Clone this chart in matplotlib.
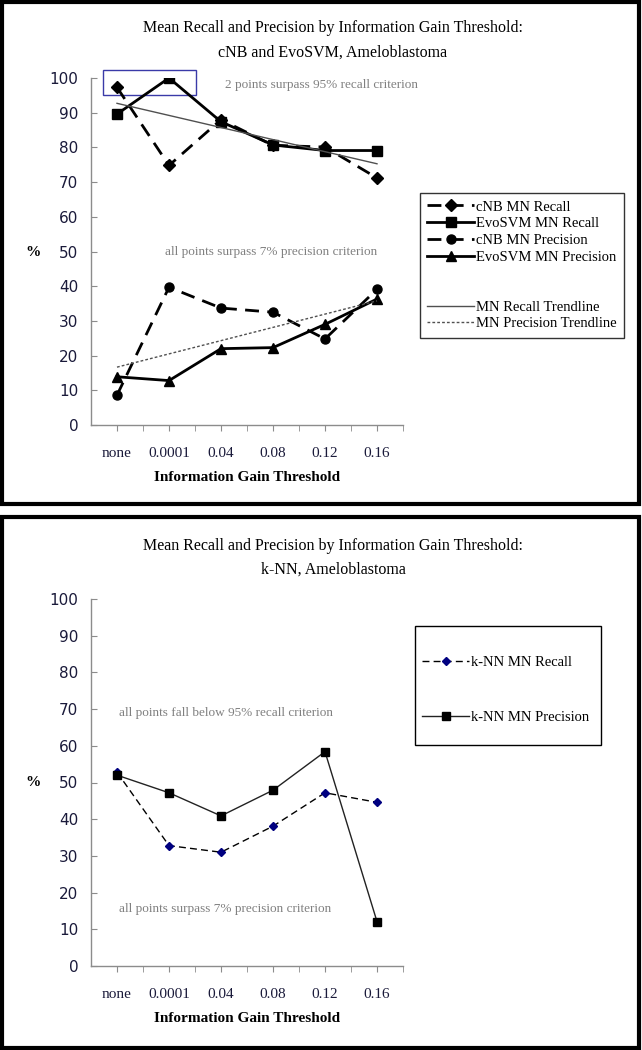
import matplotlib
matplotlib.use("Agg")
import matplotlib.pyplot as plt
from matplotlib.patches import Rectangle
from matplotlib.lines import Line2D
import numpy as np

# data
thresholds = ["none", "0.0001", "0.04", "0.08", "0.12", "0.16"]

cnb_recall = [97.3, 74.8, 88.0, 80.6, 80.1, 71.2]
evo_recall = [89.6, 100.0, 87.4, 80.7, 79.1, 79.1]
cnb_precision = [8.6, 39.7, 33.7, 32.5, 24.8, 39.1]
evo_precision = [13.9, 12.8, 22.0, 22.3, 29.0, 36.3]

knn_recall = [52.8, 32.8, 31.0, 38.1, 47.2, 44.6]
knn_precision = [52.0, 47.2, 40.9, 47.9, 58.4, 12.1]

serif = "Liberation Serif"
W, H = 642, 1050
GRAY_TXT = "#808080"
TICK_TXT = "#1a1a3a"

fig = plt.figure(figsize=(W / 100, H / 100), dpi=100)
x = np.arange(len(thresholds))


def px_rect(x0, y0, x1, y1):
    # rect in figure fraction from pixel coords (y down)
    return [x0 / W, 1 - y1 / H, (x1 - x0) / W, (y1 - y0) / H]


def style_axes(ax):
    ax.set_xlim(-0.5, 5.5)
    ax.set_ylim(0, 100)
    for s in ["top", "right"]:
        ax.spines[s].set_visible(False)
    for s in ["left", "bottom"]:
        ax.spines[s].set_color("#8c8c8c")
        ax.spines[s].set_linewidth(1)
    ax.set_yticks(np.arange(0, 101, 10))
    ax.set_xticks(x)
    ax.set_xticks(x + 0.5, minor=True)
    ax.set_xticklabels(thresholds, family=serif, fontsize=11, color=TICK_TXT)
    ax.tick_params(axis="x", which="both", direction="out", length=4,
                   color="#8c8c8c", pad=12)
    ax.tick_params(axis="y", direction="in", length=4, color="#8c8c8c",
                   pad=9, labelsize=11, labelcolor=TICK_TXT)
    ax.set_xlabel("Information Gain Threshold", family=serif,
                  fontweight="bold", fontsize=11, labelpad=8)


def box(x0, y0, x1, y1, lw):
    fig.add_artist(Rectangle((x0 / W, 1 - y1 / H), (x1 - x0) / W,
                             (y1 - y0) / H, transform=fig.transFigure,
                             fill=False, edgecolor="black", linewidth=lw))


# panel frames
box(2, 2, 639, 504, 3)
box(2, 517, 639, 1048, 3)

# ---------------- top chart ----------------
ax1 = fig.add_axes(px_rect(91, 78, 403, 425))
style_axes(ax1)

dash = (5, 3)
l1, = ax1.plot(x, cnb_recall, color="black", lw=2, dashes=dash,
               marker="D", ms=6, label="cNB MN Recall")
l2, = ax1.plot(x, evo_recall, color="black", lw=2, marker="s", ms=7,
               label="EvoSVM MN Recall")
l3, = ax1.plot(x, cnb_precision, color="black", lw=2, dashes=dash,
               marker="o", ms=6.5, label="cNB MN Precision")
l4, = ax1.plot(x, evo_precision, color="black", lw=2, marker="^", ms=7.5,
               label="EvoSVM MN Precision")

# linear trendlines over both classifiers
rx = np.concatenate([x, x])
rc = np.polyfit(rx, cnb_recall + evo_recall, 1)
pc = np.polyfit(rx, cnb_precision + evo_precision, 1)
t1, = ax1.plot(x, np.polyval(rc, x), color="#505050", lw=1,
               label="MN Recall Trendline")
t2, = ax1.plot(x, np.polyval(pc, x), color="#505050", lw=1, ls=(0, (2, 1.5)),
               label="MN Precision Trendline")

ax1.add_patch(Rectangle((-0.27, 95.1), 1.79, 7.2, fill=False,
                        edgecolor="#3a3aa8", lw=1, clip_on=False))
ax1.text(2.08, 98, "2 points surpass 95% recall criterion", family=serif,
         fontsize=9.5, color=GRAY_TXT, va="center")
ax1.text(0.92, 50, "all points surpass 7% precision criterion", family=serif,
         fontsize=9.5, color=GRAY_TXT, va="center")

blank = Line2D([], [], color="none")
leg1 = fig.legend([l1, l2, l3, l4, blank, blank, t1, t2],
                  ["cNB MN Recall", "EvoSVM MN Recall", "cNB MN Precision",
                   "EvoSVM MN Precision", " ", " ", "MN Recall Trendline",
                   "MN Precision Trendline"],
                  loc="upper left", bbox_to_anchor=(420 / W, 1 - 193 / H),
                  prop={"family": serif, "size": 10.5}, frameon=True,
                  fancybox=False, edgecolor="black", handlelength=3.2,
                  handletextpad=0.15, labelspacing=0.24, borderpad=0.5,
                  borderaxespad=0)
leg1.get_frame().set_linewidth(1)

fig.text(333 / W, 1 - 28 / H,
         "Mean Recall and Precision by Information Gain Threshold:",
         family=serif, fontsize=11.5, ha="center", va="center")
fig.text(333 / W, 1 - 53 / H, "cNB and EvoSVM, Ameloblastoma",
         family=serif, fontsize=11.5, ha="center", va="center")
fig.text(33 / W, 1 - 253 / H, "%", family=serif, fontsize=11,
         fontweight="bold", ha="center", va="center")

# ---------------- bottom chart ----------------
ax2 = fig.add_axes(px_rect(91, 599, 403, 966))
style_axes(ax2)

k1, = ax2.plot(x, knn_recall, color="black", lw=1, dashes=(5, 3),
               marker="D", ms=4, mfc="#000080", mec="#000080",
               label="k-NN MN Recall")
k2, = ax2.plot(x, knn_precision, color="#222222", lw=1, marker="s", ms=6,
               mfc="black", mec="black", label="k-NN MN Precision")

ax2.text(0.04, 68.9, "all points fall below 95% recall criterion",
         family=serif, fontsize=9.5, color=GRAY_TXT, va="center")
ax2.text(0.04, 15.5, "all points surpass 7% precision criterion",
         family=serif, fontsize=9.5, color=GRAY_TXT, va="center")

box(415, 626, 601, 745, 1)
leg2 = fig.legend([k1, k2], ["k-NN MN Recall", "k-NN MN Precision"],
                  loc="center left", bbox_to_anchor=(415 / W, 1 - 690 / H),
                  prop={"family": serif, "size": 10.5}, frameon=False,
                  handlelength=3.2, handletextpad=0.15, labelspacing=2.85,
                  borderpad=0.5, borderaxespad=0)

fig.text(333 / W, 1 - 546 / H,
         "Mean Recall and Precision by Information Gain Threshold:",
         family=serif, fontsize=11.5, ha="center", va="center")
fig.text(333 / W, 1 - 570 / H, "k-NN, Ameloblastoma",
         family=serif, fontsize=11.5, ha="center", va="center")
fig.text(33 / W, 1 - 783 / H, "%", family=serif, fontsize=11,
         fontweight="bold", ha="center", va="center")

fig.savefig("out.png", dpi=100)
